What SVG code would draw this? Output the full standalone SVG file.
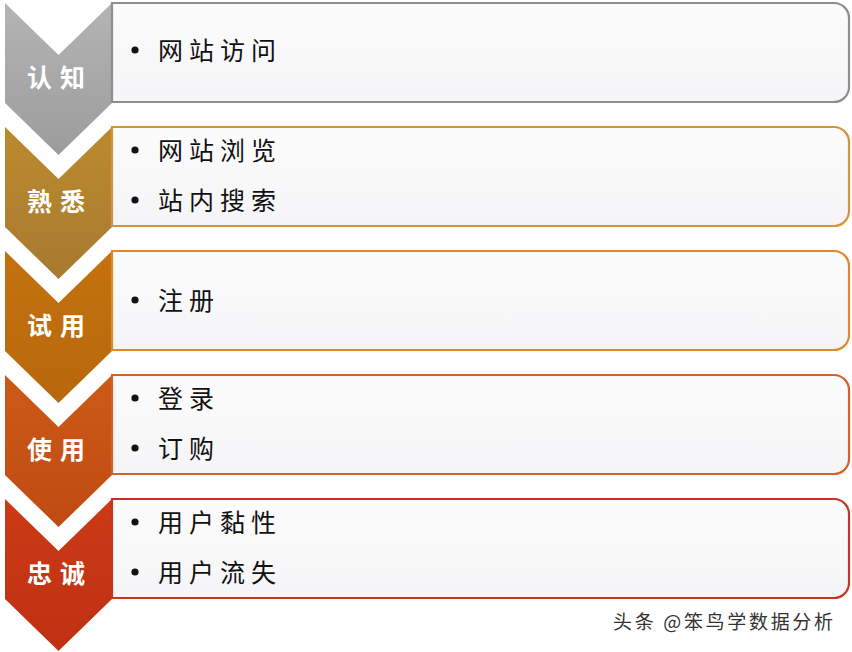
<svg xmlns="http://www.w3.org/2000/svg" width="852" height="652" viewBox="0 0 852 652">
<defs>
<linearGradient id="g1" x1="0" y1="0" x2="0" y2="1"><stop offset="0" stop-color="#b4b4b4"/><stop offset="1" stop-color="#9c9c9c"/></linearGradient>
<linearGradient id="g2" x1="0" y1="0" x2="0" y2="1"><stop offset="0" stop-color="#bb8a2e"/><stop offset="1" stop-color="#a87a30"/></linearGradient>
<linearGradient id="g3" x1="0" y1="0" x2="0" y2="1"><stop offset="0" stop-color="#c4720e"/><stop offset="1" stop-color="#b8680c"/></linearGradient>
<linearGradient id="g4" x1="0" y1="0" x2="0" y2="1"><stop offset="0" stop-color="#cc5a16"/><stop offset="1" stop-color="#c04a12"/></linearGradient>
<linearGradient id="g5" x1="0" y1="0" x2="0" y2="1"><stop offset="0" stop-color="#cc3a16"/><stop offset="1" stop-color="#bf3012"/></linearGradient>
<linearGradient id="bf" x1="0" y1="0" x2="0" y2="1"><stop offset="0" stop-color="#fcfcfd"/><stop offset="1" stop-color="#f5f5f7"/></linearGradient>
</defs>
<style>
.box{fill:url(#bf);stroke-width:2.2}
.lbl{font-family:"Noto Sans CJK SC","Noto Sans CJK TC",sans-serif;font-weight:bold;font-size:25px;fill:#ffffff;letter-spacing:8px}
.itm{font-family:"Noto Sans CJK SC","Noto Sans CJK TC",sans-serif;font-size:25px;fill:#111111;letter-spacing:6px}
.dot{fill:#111111}
.wm{font-family:"Noto Sans CJK SC","Noto Sans CJK TC",sans-serif;font-size:19px;fill:#333333}
</style>
<rect x="0" y="0" width="852" height="652" fill="#ffffff"/>
<g id="connectors"></g>

<g id="stage-renzhi">
<path d="M5,3 L58.5,55 L112,3 L112,103 L58.5,155 L5,103 Z" fill="url(#g1)"/>
<path class="box" d="M112,3 H834 A15,15 0 0 1 849,18 V87 A15,15 0 0 1 834,102 H112 Z" stroke="#8e8e8e"/>
<text class="lbl" x="27" y="87">认知</text>
<circle class="dot" cx="135" cy="50" r="3.6"/>
<text class="itm" x="158" y="60">网站访问</text>
</g>

<g id="stage-shuxi">
<path d="M5,127 L58.5,179 L112,127 L112,227 L58.5,279 L5,227 Z" fill="url(#g2)"/>
<path class="box" d="M112,127 H834 A15,15 0 0 1 849,142 V211 A15,15 0 0 1 834,226 H112 Z" stroke="#d4943a"/>
<text class="lbl" x="27" y="211">熟悉</text>
<circle class="dot" cx="135" cy="150" r="3.6"/>
<text class="itm" x="158" y="160">网站浏览</text>
<circle class="dot" cx="135" cy="200" r="3.6"/>
<text class="itm" x="158" y="210">站内搜索</text>
</g>

<g id="stage-shiyong">
<path d="M5,251 L58.5,303 L112,251 L112,351 L58.5,403 L5,351 Z" fill="url(#g3)"/>
<path class="box" d="M112,251 H834 A15,15 0 0 1 849,266 V335 A15,15 0 0 1 834,350 H112 Z" stroke="#dc8a2c"/>
<text class="lbl" x="27" y="335">试用</text>
<circle class="dot" cx="135" cy="300" r="3.6"/>
<text class="itm" x="158" y="310">注册</text>
</g>

<g id="stage-shiyong2">
<path d="M5,375 L58.5,427 L112,375 L112,475 L58.5,527 L5,475 Z" fill="url(#g4)"/>
<path class="box" d="M112,375 H834 A15,15 0 0 1 849,390 V459 A15,15 0 0 1 834,474 H112 Z" stroke="#d6602a"/>
<text class="lbl" x="27" y="459">使用</text>
<circle class="dot" cx="135" cy="398" r="3.6"/>
<text class="itm" x="158" y="408">登录</text>
<circle class="dot" cx="135" cy="448" r="3.6"/>
<text class="itm" x="158" y="458">订购</text>
</g>

<g id="stage-zhongcheng">
<path d="M5,499 L58.5,551 L112,499 L112,599 L58.5,651 L5,599 Z" fill="url(#g5)"/>
<path class="box" d="M112,499 H834 A15,15 0 0 1 849,514 V583 A15,15 0 0 1 834,598 H112 Z" stroke="#c83424"/>
<text class="lbl" x="27" y="583">忠诚</text>
<circle class="dot" cx="135" cy="522" r="3.6"/>
<text class="itm" x="158" y="532">用户黏性</text>
<circle class="dot" cx="135" cy="572" r="3.6"/>
<text class="itm" x="158" y="582">用户流失</text>
</g>

<text class="wm" x="613" y="629" textLength="220">头条 @笨鸟学数据分析</text>
</svg>
